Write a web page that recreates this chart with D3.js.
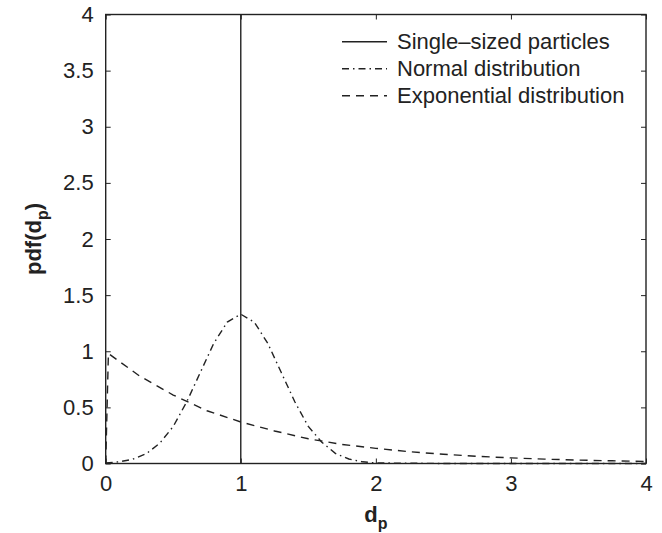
<!DOCTYPE html>
<html><head><meta charset="utf-8">
<script src="https://cdn.jsdelivr.net/npm/d3@7"></script>
<style>body{margin:0;background:#fff;} text{font-family:"Liberation Sans",Arial,sans-serif;fill:#222;}</style>
</head><body>
<svg id="c" width="662" height="533"></svg>
<script>
// Data
const xTicks = [0, 1, 2, 3, 4];
const yTicks = [0, 0.5, 1, 1.5, 2, 2.5, 3, 3.5, 4];
const yTickLabels = ["0", "0.5", "1", "1.5", "2", "2.5", "3", "3.5", "4"];
const singleX = [1, 1];
const singleY = [0, 4];
const normalX = [0, 0.1, 0.2, 0.3, 0.4, 0.5, 0.6, 0.7, 0.8, 0.9, 1.0, 1.1, 1.2, 1.3, 1.4, 1.5, 1.6, 1.7, 1.8, 1.9, 2.0, 2.5, 3.0, 3.5, 4.0];
const normalY = [0.005, 0.015, 0.038, 0.087, 0.18, 0.33, 0.55, 0.81, 1.07, 1.26, 1.33, 1.26, 1.07, 0.81, 0.55, 0.33, 0.19, 0.09, 0.04, 0.015, 0.005, 0, 0, 0, 0];
const expX = [0, 0.02, 0.25, 0.5, 0.75, 1.0, 1.25, 1.5, 1.75, 2.0, 2.25, 2.5, 2.75, 3.0, 3.25, 3.5, 3.75, 4.0];
const expY = [0, 0.98, 0.78, 0.61, 0.47, 0.37, 0.29, 0.22, 0.17, 0.135, 0.105, 0.082, 0.064, 0.05, 0.039, 0.03, 0.024, 0.018];
const legendLabels = ["Single\u2013sized particles", "Normal distribution", "Exponential distribution"];
const dashes = [null, "7,4,1.5,4", "8,6"];

const svg = d3.select("#c");
const L = 105.7, R = 646, T = 14.5, B = 463.5;
const x = d3.scaleLinear().domain([0, 4]).range([L, R]);
const y = d3.scaleLinear().domain([0, 4]).range([B, T]);
const col = "#222";
const fs = "22px";

const ax = (g) => { g.select(".domain").remove(); g.selectAll("line").attr("stroke", col).attr("stroke-width", 1); g.selectAll("text").style("font-size", fs).attr("fill", col); };

svg.append("g").attr("transform", `translate(0,${B})`)
  .call(d3.axisBottom(x).tickValues(xTicks).tickSize(-5).tickPadding(12).tickFormat(d3.format("d"))).call(ax);
svg.append("g").attr("transform", `translate(0,${T})`)
  .call(d3.axisTop(x).tickValues(xTicks).tickSize(-5).tickFormat("")).call(ax);
svg.append("g").attr("transform", `translate(${L},0)`)
  .call(d3.axisLeft(y).tickValues(yTicks).tickSize(-5).tickPadding(12).tickFormat((d, i) => yTickLabels[i])).call(ax);
svg.append("g").attr("transform", `translate(${R},0)`)
  .call(d3.axisRight(y).tickValues(yTicks).tickSize(-5).tickFormat("")).call(ax);

svg.append("rect").attr("x", L).attr("y", T).attr("width", R - L).attr("height", B - T)
  .attr("fill", "none").attr("stroke", col).attr("stroke-width", 1.4);

const line = d3.line().x(d => x(d[0])).y(d => y(d[1]));
const series = [d3.zip(singleX, singleY), d3.zip(normalX, normalY), d3.zip(expX, expY)];
series.forEach((s, i) => {
  svg.append("path").datum(s).attr("d", line).attr("fill", "none")
    .attr("stroke", col).attr("stroke-width", 1.4)
    .attr("stroke-dasharray", dashes[i]);
});

// legend
legendLabels.forEach((t, i) => {
  const yy = 41.7 + i * 27;
  svg.append("line").attr("x1", 342).attr("x2", 387).attr("y1", yy).attr("y2", yy)
    .attr("stroke", col).attr("stroke-width", 1.4).attr("stroke-dasharray", dashes[i]);
  svg.append("text").attr("x", 397).attr("y", yy).attr("dy", "0.35em").style("font-size", fs).text(t);
});

// axis labels
const xl = svg.append("text").attr("x", (L + R) / 2).attr("y", 522).attr("text-anchor", "middle")
  .style("font-size", fs).style("font-weight", "bold");
xl.append("tspan").text("d");
xl.append("tspan").attr("dy", 7).style("font-size", "16px").text("p");

const yl = svg.append("text").attr("transform", `translate(41,${(T + B) / 2}) rotate(-90)`)
  .attr("text-anchor", "middle").style("font-size", fs).style("font-weight", "bold");
yl.append("tspan").text("pdf(d");
yl.append("tspan").attr("dy", 7).style("font-size", "16px").text("p");
yl.append("tspan").attr("dy", -7).text(")");
</script>
</body></html>
